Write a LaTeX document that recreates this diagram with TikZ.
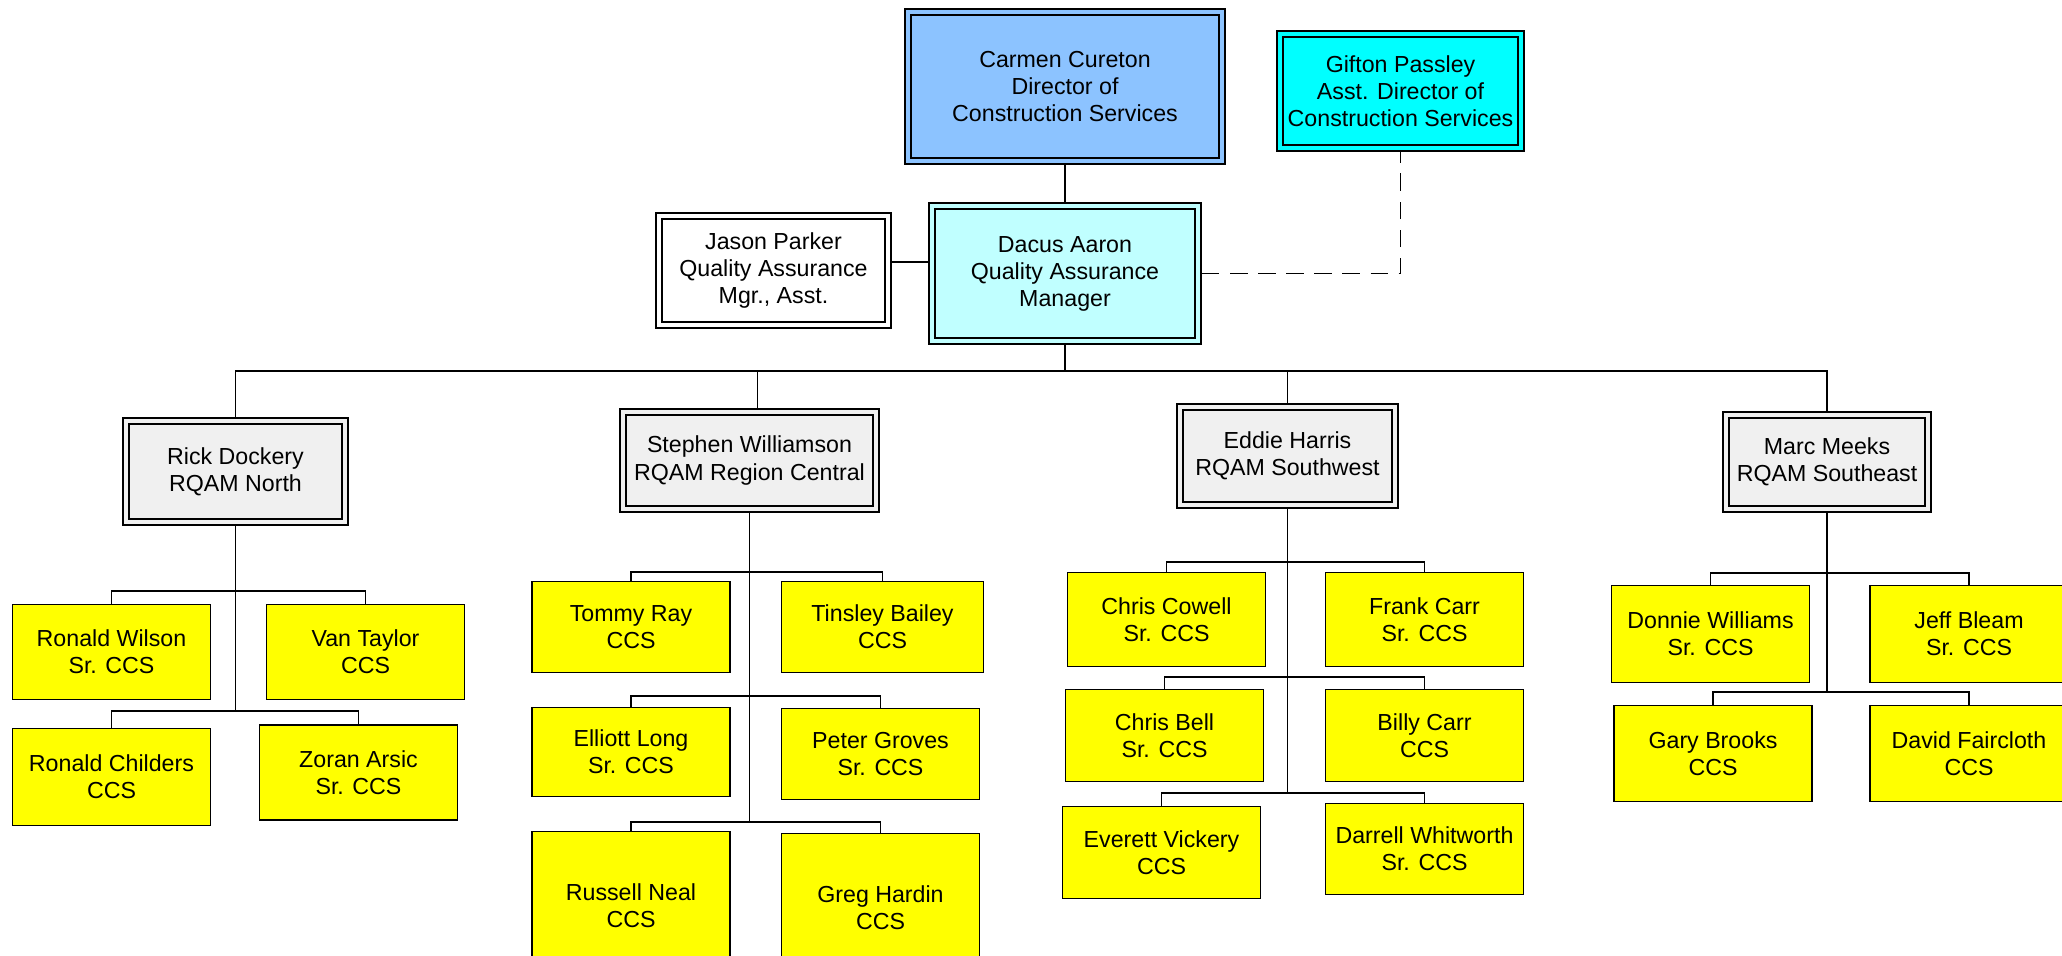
\documentclass[tikz,border=0pt]{standalone}
\usepackage{fontspec}
\setmainfont{Liberation Sans}
\usetikzlibrary{positioning}
\definecolor{DirBlue}{RGB}{140,195,255}
\definecolor{AsstCyan}{RGB}{0,255,255}
\definecolor{QACyan}{RGB}{192,255,255}
\definecolor{HeadGrey}{RGB}{240,240,240}
\definecolor{StaffYellow}{RGB}{255,255,0}
\begin{document}
\begin{tikzpicture}[font=\fontsize{6.6}{7.7}\selectfont, line width=0.5pt]
				\tikzstyle{Boxed} = [rectangle, draw, double distance=1.2pt, outer sep=1.1pt, align=center, inner sep=0pt]
				\tikzstyle{Staff} = [rectangle, draw, fill=StaffYellow, align=center, inner sep=0pt, minimum width=1.98cm, minimum height=0.95cm]
				\useasboundingbox (0,0) rectangle (20.62,-9.56);
				\node (DIR) at (10.65,-0.865) [Boxed, fill=DirBlue, double=DirBlue, minimum width=3.14cm, minimum height=1.49cm] {Carmen Cureton\\Director of\\Construction Services};
				\node (ADIR) at (14.005,-0.91) [Boxed, fill=AsstCyan, double=AsstCyan, minimum width=2.41cm, minimum height=1.14cm] {Gifton Passley\\Asst. Director of\\Construction Services};
				\node (QAM) at (10.65,-2.735) [Boxed, fill=QACyan, double=QACyan, minimum width=2.66cm, minimum height=1.35cm] {Dacus Aaron\\Quality Assurance\\Manager};
				\node (QAA) at (7.735,-2.705) [Boxed, fill=white, double=white, minimum width=2.29cm, minimum height=1.09cm] {Jason Parker\\Quality Assurance\\Mgr., Asst.};
				\node (R1) at (2.355,-4.715) [Boxed, fill=HeadGrey, double=HeadGrey, minimum width=2.19cm, minimum height=1.01cm] {Rick Dockery\\RQAM North};
				\node (R2) at (7.495,-4.605) [Boxed, fill=HeadGrey, double=HeadGrey, minimum width=2.53cm, minimum height=0.97cm] {Stephen Williamson\\RQAM Region Central};
				\node (R3) at (12.875,-4.56) [Boxed, fill=HeadGrey, double=HeadGrey, minimum width=2.15cm, minimum height=0.98cm] {Eddie Harris\\RQAM Southwest};
				\node (R4) at (18.27,-4.62) [Boxed, fill=HeadGrey, double=HeadGrey, minimum width=2.02cm, minimum height=0.94cm] {Marc Meeks\\RQAM Southeast};
				% North
				\node (N1) at (1.115,-6.52) [Staff] {Ronald Wilson\\Sr. CCS};
				\node (N2) at (3.655,-6.52) [Staff] {Van Taylor\\CCS};
				\node (N3) at (1.115,-7.77) [Staff, minimum height=0.97cm] {Ronald Childers\\CCS};
				\node (N4) at (3.585,-7.725) [Staff] {Zoran Arsic\\Sr. CCS};
				% Central
				\node (C1) at (6.31,-6.27) [Staff, minimum height=0.91cm] {Tommy Ray\\CCS};
				\node (C2) at (8.825,-6.27) [Staff, minimum height=0.91cm, minimum width=2.02cm] {Tinsley Bailey\\CCS};
				\node (C3) at (6.31,-7.52) [Staff, minimum height=0.89cm] {Elliott Long\\Sr. CCS};
				\node (C4) at (8.805,-7.54) [Staff, minimum height=0.91cm] {Peter Groves\\Sr. CCS};
				\node (C5) at (6.31,-9.06) [Staff, minimum height=1.49cm] {Russell Neal\\CCS};
				\node (C6) at (8.805,-9.08) [Staff, minimum height=1.49cm] {Greg Hardin\\CCS};
				% Southwest
				\node (SW1) at (11.665,-6.195) [Staff, minimum height=0.94cm] {Chris Cowell\\Sr. CCS};
				\node (SW2) at (14.245,-6.195) [Staff, minimum height=0.94cm] {Frank Carr\\Sr. CCS};
				\node (SW3) at (11.645,-7.355) [Staff, minimum height=0.92cm] {Chris Bell\\Sr. CCS};
				\node (SW4) at (14.245,-7.355) [Staff, minimum height=0.92cm] {Billy Carr\\CCS};
				\node (SW5) at (11.615,-8.525) [Staff, minimum height=0.92cm] {Everett Vickery\\CCS};
				\node (SW6) at (14.245,-8.49) [Staff, minimum height=0.91cm] {Darrell Whitworth\\Sr. CCS};
				% Southeast
				\node (SE1) at (17.105,-6.34) [Staff, minimum height=0.97cm] {Donnie Williams\\Sr. CCS};
				\node (SE2) at (19.69,-6.34) [Staff, minimum height=0.97cm] {Jeff Bleam\\Sr. CCS};
				\node (SE3) at (17.13,-7.535) [Staff, minimum height=0.96cm] {Gary Brooks\\CCS};
				\node (SE4) at (19.69,-7.535) [Staff, minimum height=0.96cm] {David Faircloth\\CCS};
				% top links
				\coordinate (bus) at (0,-3.71);
				\draw (DIR.south) -- (QAM.north);
				\draw ([yshift=0.085cm]QAA.east) -- ([yshift=0.085cm]QAA.east -| QAM.west);
				\draw[dash pattern=on 5pt off 3pt] (QAM.east) -| (ADIR.south);
				\draw (QAM.south) -- (QAM.south |- bus);
				\draw (R1.north) |- (R4.north |- bus) -- (R4.north);
				\draw ([xshift=0.08cm]R2.north) -- ([xshift=0.08cm]R2.north |- bus);
				\draw (R3.north) -- (R3.north |- bus);
				% North links
				\draw (R1.south) -- (R1.south |- 0,-7.11);
				\draw (N1.north) |- (R1.south |- 0,-5.91);
				\draw (N2.north) |- (R1.south |- 0,-5.91);
				\draw (N3.north) |- (R1.south |- 0,-7.11);
				\draw (N4.north) |- (R1.south |- 0,-7.11);
				% Central links
				\draw (R2.south) -- (R2.south |- 0,-8.22);
				\draw (C1.north) |- (R2.south |- 0,-5.72);
				\draw (C2.north) |- (R2.south |- 0,-5.72);
				\draw (C3.north) |- (R2.south |- 0,-6.96);
				\draw (C4.north) |- (R2.south |- 0,-6.96);
				\draw (C5.north) |- (R2.south |- 0,-8.22);
				\draw (C6.north) |- (R2.south |- 0,-8.22);
				% Southwest links
				\draw (R3.south) -- (R3.south |- 0,-7.93);
				\draw (SW1.north) |- (R3.south |- 0,-5.62);
				\draw (SW2.north) |- (R3.south |- 0,-5.62);
				\draw (SW3.north) |- (R3.south |- 0,-6.77);
				\draw (SW4.north) |- (R3.south |- 0,-6.77);
				\draw (SW5.north) |- (R3.south |- 0,-7.93);
				\draw (SW6.north) |- (R3.south |- 0,-7.93);
				% Southeast links
				\draw (R4.south) -- (R4.south |- 0,-6.92);
				\draw (SE1.north) |- (R4.south |- 0,-5.73);
				\draw (SE2.north) |- (R4.south |- 0,-5.73);
				\draw (SE3.north) |- (R4.south |- 0,-6.92);
				\draw (SE4.north) |- (R4.south |- 0,-6.92);
			\end{tikzpicture}
\end{document}
